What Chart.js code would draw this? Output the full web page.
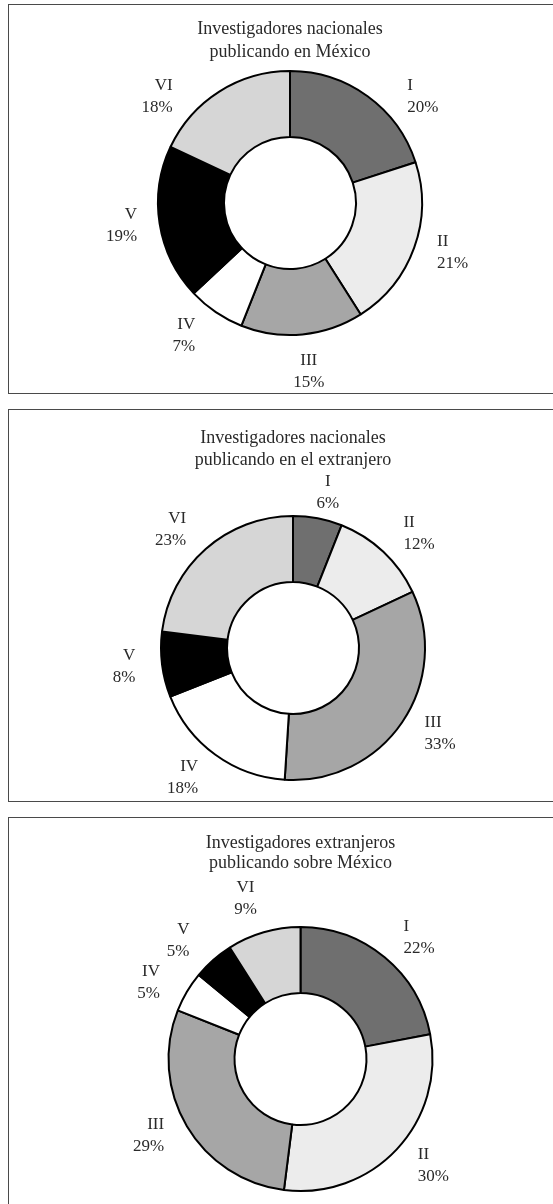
<!DOCTYPE html>
<html lang="es">
<head>
<meta charset="utf-8">
<title>Investigadores publicando</title>
<script src="https://cdn.jsdelivr.net/npm/chart.js@4.4.1/dist/chart.umd.min.js"></script>
<style>
  html, body { margin: 0; padding: 0; background: #fff; }
  body { width: 553px; height: 1204px; position: relative; overflow: hidden; }
  .panel { position: absolute; left: 8px; width: 570px; border: 1px solid #4a4a4a; box-sizing: border-box; }
  .panel canvas { display: block; }
</style>
</head>
<body>
<div class="panel" style="top:4px;height:390px"><canvas id="chart1" width="568" height="388"></canvas></div>
<div class="panel" style="top:409px;height:393px"><canvas id="chart2" width="568" height="391"></canvas></div>
<div class="panel" style="top:817px;height:400px"><canvas id="chart3" width="568" height="398"></canvas></div>
<script>
const categories = ['I', 'II', 'III', 'IV', 'V', 'VI'];
const nacionalesEnMexico = [20, 21, 15, 7, 19, 18];
const nacionalesEnExtranjero = [6, 12, 33, 18, 8, 23];
const extranjerosSobreMexico = [22, 30, 29, 5, 5, 9];
const titles = [
    ['Investigadores nacionales', 'publicando en México'],
    ['Investigadores nacionales', 'publicando en el extranjero'],
    ['Investigadores extranjeros', 'publicando sobre México']
];

const sliceColors = ['#6f6f6f', '#ececec', '#a6a6a6', '#ffffff', '#000000', '#d6d6d6'];
const TEXT_COLOR = '#2a2a2a';
const RADIUS = 132;

// canvas-relative donut centre and first title line
const panels = [
    { id: 'chart1', values: nacionalesEnMexico, title: titles[0], cx: 281, cy: 198, titleY: 24, titleLine: 23 },
    { id: 'chart2', values: nacionalesEnExtranjero, title: titles[1], cx: 284, cy: 238, titleY: 28, titleLine: 22 },
    { id: 'chart3', values: extranjerosSobreMexico, title: titles[2], cx: 291.5, cy: 241, titleY: 25, titleLine: 20 }
];

const panelText = {
    id: 'panelText',
    afterDraw(chart, args, opts) {
        const ctx = chart.ctx;
        const meta = chart.getDatasetMeta(0);
        const cx = meta.data[0].x;
        const cy = meta.data[0].y;
        const values = chart.data.datasets[0].data;
        const labels = chart.data.labels;

        ctx.save();
        ctx.fillStyle = TEXT_COLOR;
        ctx.textBaseline = 'middle';

        ctx.font = opts.titleFont;
        ctx.textAlign = 'center';
        opts.title.forEach((line, i) => ctx.fillText(line, cx, opts.titleY + i * opts.titleLine));
        const titleBottom = opts.titleY + (opts.title.length - 1) * opts.titleLine + 9;
        const minY = titleBottom + 4 + opts.blockHalf;

        ctx.font = opts.labelFont;
        meta.data.forEach((arc, i) => {
            const p = arc.getProps(['startAngle', 'endAngle', 'outerRadius'], true);
            const mid = (p.startAngle + p.endAngle) / 2;
            // lean the label direction a little towards the sides
            let cos = Math.cos(mid);
            let sin = Math.sin(mid) * opts.flatten;
            const len = Math.hypot(cos, sin);
            cos /= len;
            sin /= len;
            let d = p.outerRadius + opts.offset;

            // keep labels clear of the title
            if (cy + d * sin < minY) {
                const pulled = (cy - minY) / -sin;
                if (pulled >= p.outerRadius + opts.minOffset) {
                    d = pulled;
                } else {
                    sin = (minY + opts.pushExtra - cy) / d;
                    cos = Math.sign(cos) * Math.sqrt(1 - sin * sin);
                }
            }

            const x = cx + d * cos;
            const y = cy + d * sin;
            const lines = [labels[i], values[i] + '%'];
            const w = Math.max(...lines.map((t) => ctx.measureText(t).width));
            let tx = x;
            if (cos > 0.35) {
                ctx.textAlign = 'left';
                tx = x - w / 2;
            } else if (cos < -0.35) {
                ctx.textAlign = 'right';
                tx = x + w / 2;
            } else {
                ctx.textAlign = 'center';
            }
            ctx.fillText(lines[0], tx, y - opts.labelLine / 2);
            ctx.fillText(lines[1], tx, y + opts.labelLine / 2);
        });
        ctx.restore();
    }
};

panels.forEach((panel) => {
    const canvas = document.getElementById(panel.id);
    const half = RADIUS + 8;
    new Chart(canvas.getContext('2d'), {
        type: 'doughnut',
        data: {
            labels: categories,
            datasets: [{
                data: panel.values,
                backgroundColor: sliceColors,
                borderColor: '#000000',
                borderWidth: 2
            }]
        },
        options: {
            responsive: false,
            animation: false,
            radius: RADIUS,
            cutout: '50%',
            layout: {
                padding: {
                    left: panel.cx - half,
                    right: canvas.width - panel.cx - half,
                    top: panel.cy - half,
                    bottom: canvas.height - panel.cy - half
                }
            },
            plugins: {
                legend: { display: false },
                tooltip: { enabled: false },
                panelText: {
                    title: panel.title,
                    titleY: panel.titleY,
                    titleLine: panel.titleLine,
                    titleFont: '18px "Liberation Serif", serif',
                    labelFont: '17px "Liberation Serif", serif',
                    labelLine: 22,
                    blockHalf: 20,
                    offset: 38,
                    flatten: 0.85,
                    minOffset: 24,
                    pushExtra: 12
                }
            }
        },
        plugins: [panelText]
    });
});
</script>
</body>
</html>
